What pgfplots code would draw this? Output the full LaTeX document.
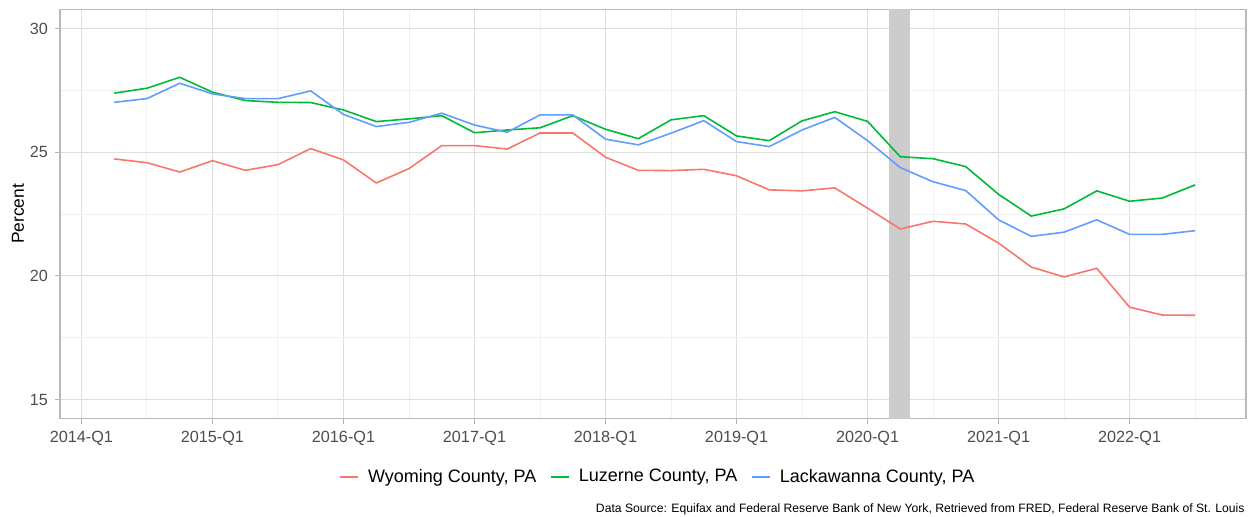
\documentclass[border=0pt]{standalone}
\usepackage{pgfplots}
\pgfplotsset{compat=1.18}
\usepackage{pgfplotstable}
\usepackage{fontspec}
\setmainfont{Liberation Sans}
\definecolor{cred}{HTML}{F8766D}
\definecolor{cgreen}{HTML}{00BA38}
\definecolor{cblue}{HTML}{619CFF}
\definecolor{tickgray}{HTML}{4D4D4D}
\pgfplotstableread{
t wy lu la
2014.25 24.73 27.39 27.02
2014.50 24.58 27.59 27.17
2014.75 24.20 28.03 27.79
2015.00 24.66 27.43 27.36
2015.25 24.27 27.09 27.17
2015.50 24.50 27.02 27.17
2015.75 25.15 27.01 27.48
2016.00 24.69 26.71 26.53
2016.25 23.76 26.24 26.04
2016.50 24.34 26.35 26.21
2016.75 25.27 26.48 26.58
2017.00 25.27 25.79 26.10
2017.25 25.13 25.90 25.81
2017.50 25.78 25.99 26.51
2017.75 25.78 26.48 26.51
2018.00 24.80 25.93 25.53
2018.25 24.27 25.55 25.30
2018.50 24.26 26.31 25.77
2018.75 24.31 26.48 26.28
2019.00 24.05 25.66 25.43
2019.25 23.48 25.47 25.23
2019.50 23.44 26.27 25.90
2019.75 23.56 26.64 26.41
2020.00 22.74 26.25 25.47
2020.25 21.90 24.82 24.38
2020.50 22.21 24.74 23.81
2020.75 22.10 24.42 23.45
2021.00 21.33 23.30 22.27
2021.25 20.36 22.42 21.60
2021.50 19.96 22.71 21.77
2021.75 20.31 23.44 22.27
2022.00 18.74 23.02 21.68
2022.25 18.42 23.15 21.68
2022.50 18.41 23.68 21.83
}\data
\begin{document}
\begin{tikzpicture}
\begin{axis}[
  name=main,
  scale only axis,
  width=593pt, height=204.7pt,
  xmin=2013.836, xmax=2022.889,
  ymin=14.23, ymax=30.78,
  xtick={2014,2015,2016,2017,2018,2019,2020,2021,2022},
  xticklabels={2014-Q1,2015-Q1,2016-Q1,2017-Q1,2018-Q1,2019-Q1,2020-Q1,2021-Q1,2022-Q1},
  ytick={15,20,25,30},
  minor xtick={2014.5,2015.5,2016.5,2017.5,2018.5,2019.5,2020.5,2021.5,2022.5},
  minor ytick={17.5,22.5,27.5},
  grid=both,
  major grid style={black!13, line width=0.5pt},
  minor grid style={black!6, line width=0.5pt},
  minor tick length=0pt,
  major tick length=2.5pt,
  tick align=outside,
  xtick pos=bottom, ytick pos=left,
  tick style={black!30, line width=0.5pt},
  axis line style={black!28, line width=0.6pt},
  /pgf/number format/assume math mode=true,
  tick label style={font=\fontsize{8.1}{9}\selectfont, text=tickgray},
  legend columns=3,
  legend style={at={(0.505,-0.1425)}, anchor=center, draw=none, fill=none,
    font=\fontsize{9}{10}\selectfont,
    /tikz/every odd column/.append style={column sep=2.5pt},
    /tikz/every even column/.append style={column sep=5pt}},
  legend image code/.code={\draw[#1] (0pt,0pt) -- (9pt,0pt);},
  clip=true,
]
\addplot[fill=black!20, draw=none, forget plot] coordinates {(2020.164,14.23) (2020.324,14.23) (2020.324,30.78) (2020.164,30.78)} -- cycle;
\addplot[cred, line width=0.8pt] table[x=t, y=wy] {\data};
\addlegendentry{Wyoming County, PA}
\addplot[cgreen, line width=0.8pt] table[x=t, y=lu] {\data};
\addlegendentry{Luzerne County, PA}
\addplot[cblue, line width=0.8pt] table[x=t, y=la] {\data};
\addlegendentry{Lackawanna County, PA}
\end{axis}
\node[rotate=90, font=\fontsize{8.7}{10}\selectfont] at (-21pt,102.35pt) {Percent};
\node[anchor=base east, font=\fontsize{6.08}{7}\selectfont, inner sep=0pt] at (592.5pt,-47pt) {Data Source: Equifax and Federal Reserve Bank of New York, Retrieved from FRED, Federal Reserve Bank of St. Louis};
\path[use as bounding box] (-30pt,-49.15pt) rectangle (594.5pt,209.35pt);
\end{tikzpicture}
\end{document}
